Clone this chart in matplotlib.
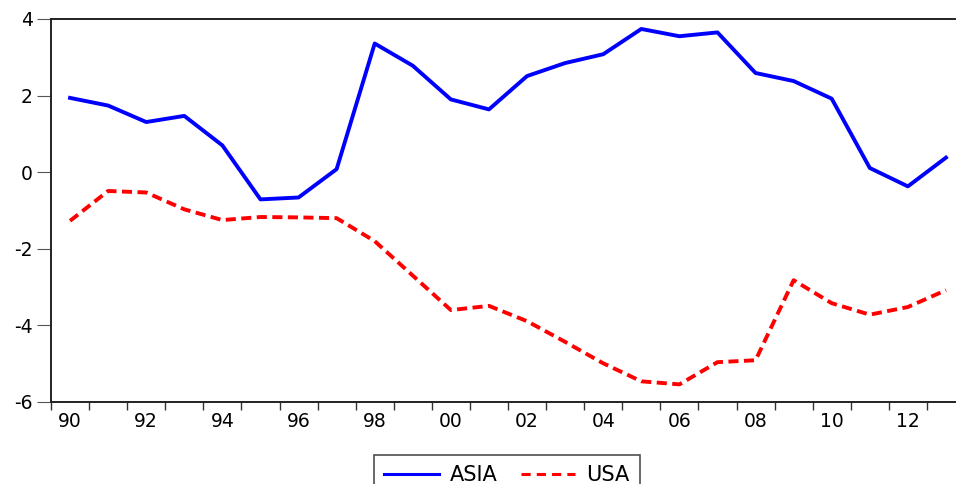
import matplotlib
matplotlib.use("Agg")
import matplotlib.pyplot as plt
from matplotlib.ticker import FixedLocator

years = list(range(1990, 2014))
asia = [1.94, 1.74, 1.31, 1.47, 0.70, -0.71, -0.66, 0.08, 3.36, 2.78, 1.90, 1.64,
        2.51, 2.85, 3.08, 3.74, 3.55, 3.65, 2.59, 2.38, 1.92, 0.11, -0.37, 0.38]
usa = [-1.27, -0.49, -0.53, -0.97, -1.25, -1.17, -1.18, -1.20, -1.80, -2.70, -3.60, -3.49,
       -3.89, -4.43, -4.99, -5.46, -5.54, -4.96, -4.91, -2.82, -3.42, -3.72, -3.52, -3.08]
label_years = list(range(1990, 2013, 2))
label_text = [f"{y % 100:02d}" for y in label_years]
y_ticks = [-6, -4, -2, 0, 2, 4]

plt.rcParams["font.family"] = ["DejaVu Sans"]

fig = plt.figure(figsize=(9.56, 4.84), dpi=100)
W, H = 956, 484
left, right, top, bottom = 51, 965, 19, 402
ax = fig.add_axes([left / W, 1 - bottom / H, (right - left) / W, (bottom - top) / H])

ax.plot(years, asia, color="#0000ff", linewidth=2.8, label="ASIA")
ax.plot(years, usa, color="#ff0000", linewidth=2.8, linestyle=(0, (2.6, 1.4)), label="USA")

ax.set_xlim(1989.5, 2013.5)
ax.set_ylim(-6, 4)

# tick marks sit between years, labels centred on every other year
ax.xaxis.set_major_locator(FixedLocator([y - 0.5 for y in range(1990, 2015)]))
ax.xaxis.set_major_formatter(plt.NullFormatter())
ax.xaxis.set_minor_locator(FixedLocator(label_years))
ax.xaxis.set_minor_formatter(plt.FixedFormatter(label_text))
ax.tick_params(axis="x", which="major", direction="out", length=6, width=1.0, color="#333333")
ax.tick_params(axis="x", which="minor", length=0, labelsize=13.5, pad=7)

ax.set_yticks(y_ticks)
ax.set_yticklabels([str(v) for v in y_ticks])
ax.tick_params(axis="y", direction="out", length=10, width=0.8, color="#555555", labelsize=13.5, pad=3)

for side in ("left", "bottom", "top", "right"):
    ax.spines[side].set_color("#222222")
    ax.spines[side].set_linewidth(1.4)

handles = [
    plt.Line2D([], [], color="#0000ff", linewidth=2.2),
    plt.Line2D([], [], color="#ff0000", linewidth=2.2, linestyle=(0, (3.0, 2.0))),
]
leg = fig.legend(handles, ["ASIA", "USA"], loc="upper center",
                 bbox_to_anchor=(507 / W, 1 - 455 / H), ncol=2, frameon=True,
                 fancybox=False, edgecolor="#222222", fontsize=15,
                 handlelength=2.6, handletextpad=0.55, columnspacing=1.1,
                 borderpad=0.5, borderaxespad=0)
leg.get_frame().set_linewidth(1.2)

fig.savefig("out.png", dpi=100)
